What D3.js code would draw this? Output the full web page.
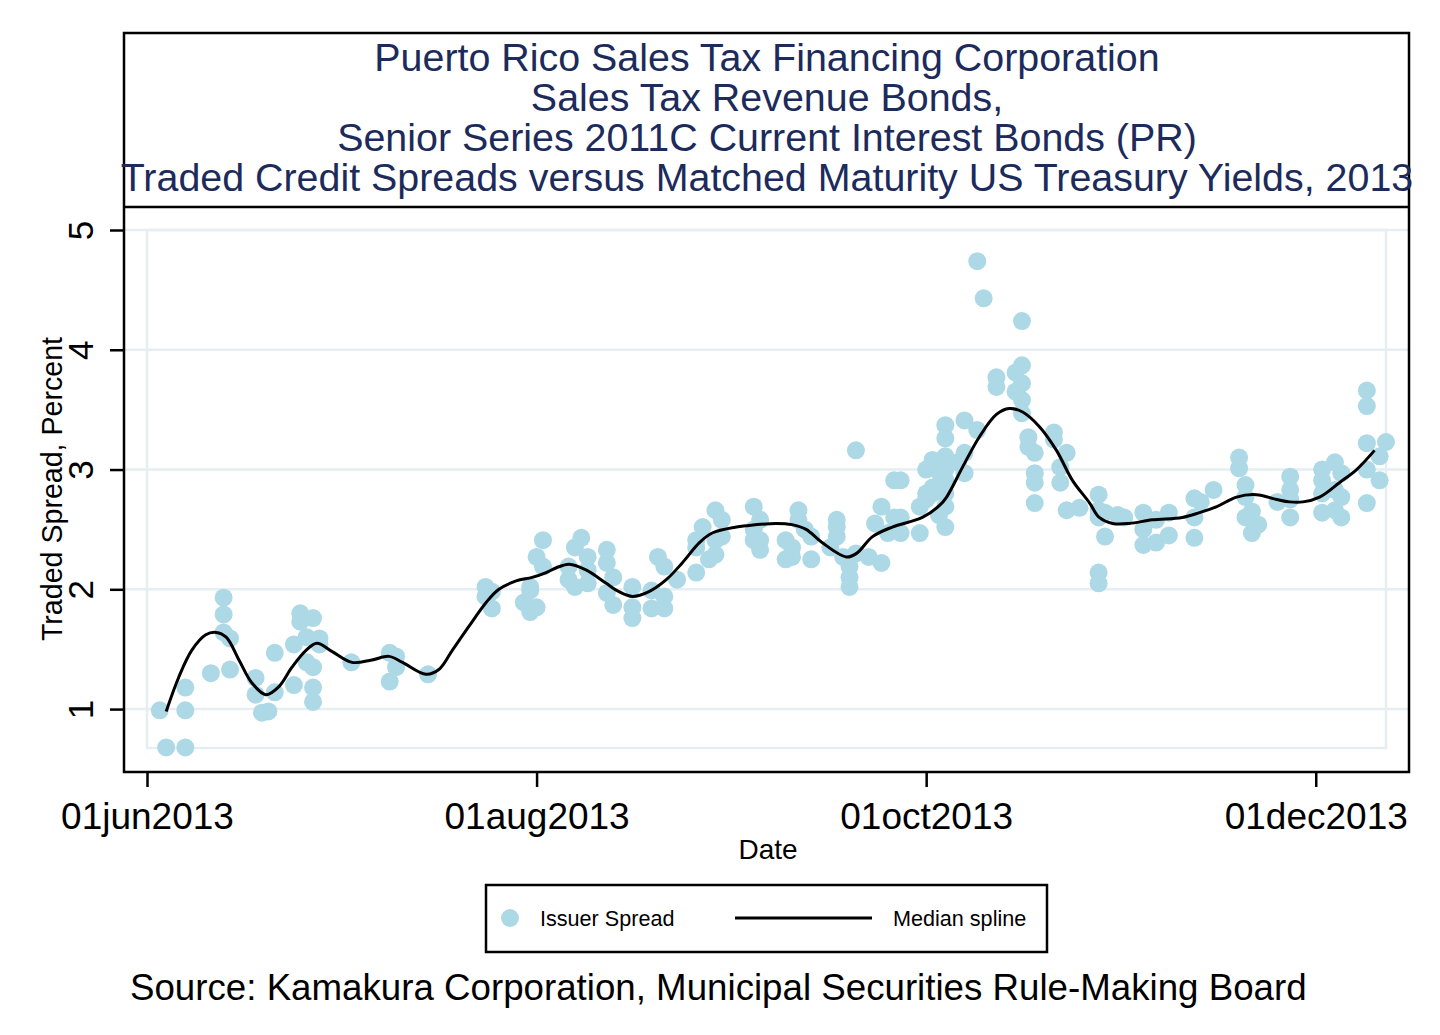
<!DOCTYPE html>
<html>
<head>
<meta charset="utf-8">
<script src="https://cdn.jsdelivr.net/npm/d3@7"></script>
<style>
  html, body { margin: 0; padding: 0; background: #ffffff; }
  svg { display: block; font-family: "Liberation Sans", Arial, sans-serif; }
</style>
</head>
<body>
<div id="chart"></div>
<script>
// ---------------- DATA ----------------
const titleLines = [
  "Puerto Rico Sales Tax Financing Corporation",
  "Sales Tax Revenue Bonds,",
  "Senior Series 2011C Current Interest Bonds (PR)",
  "Traded Credit Spreads versus Matched Maturity US Treasury Yields, 2013"
];
const xTickDates = ["2013-06-01", "2013-08-01", "2013-10-01", "2013-12-01"];
const xTickLabels = ["01jun2013", "01aug2013", "01oct2013", "01dec2013"];
const yTicks = [1, 2, 3, 4, 5];
const xTitle = "Date";
const yTitle = "Traded Spread, Percent";
const legendLabels = ["Issuer Spread", "Median spline"];
const sourceNote = "Source: Kamakura Corporation, Municipal Securities Rule-Making Board";

// Issuer spread observations (trade date, spread in percent)
const spreadDates = [
  "2013-06-03","2013-06-04","2013-06-07","2013-06-07","2013-06-07","2013-06-11","2013-06-13","2013-06-13","2013-06-13","2013-06-14",
  "2013-06-14","2013-06-18","2013-06-18","2013-06-19","2013-06-20","2013-06-21","2013-06-21","2013-06-24","2013-06-24","2013-06-25",
  "2013-06-25","2013-06-26","2013-06-26","2013-06-27","2013-06-27","2013-06-27","2013-06-27","2013-06-28","2013-06-28","2013-07-03",
  "2013-07-09","2013-07-09","2013-07-10","2013-07-10","2013-07-15","2013-07-24","2013-07-24","2013-07-25","2013-07-25","2013-07-30",
  "2013-07-31","2013-07-31","2013-07-31","2013-08-01","2013-08-01","2013-08-02","2013-08-02","2013-08-06","2013-08-06","2013-08-07",
  "2013-08-07","2013-08-08","2013-08-09","2013-08-09","2013-08-09","2013-08-12","2013-08-12","2013-08-12","2013-08-13","2013-08-13",
  "2013-08-16","2013-08-16","2013-08-16","2013-08-19","2013-08-19","2013-08-20","2013-08-21","2013-08-21","2013-08-21","2013-08-23",
  "2013-08-26","2013-08-26","2013-08-26","2013-08-27","2013-08-28","2013-08-29","2013-08-29","2013-08-29","2013-08-30","2013-08-30",
  "2013-09-04","2013-09-04","2013-09-04","2013-09-05","2013-09-05","2013-09-05","2013-09-09","2013-09-09","2013-09-10","2013-09-10",
  "2013-09-11","2013-09-11","2013-09-12","2013-09-13","2013-09-13","2013-09-16","2013-09-17","2013-09-17","2013-09-17","2013-09-18",
  "2013-09-19","2013-09-19","2013-09-19","2013-09-20","2013-09-20","2013-09-22","2013-09-23","2013-09-24","2013-09-24","2013-09-25",
  "2013-09-26","2013-09-26","2013-09-27","2013-09-27","2013-09-27","2013-09-30","2013-09-30","2013-10-01","2013-10-01","2013-10-01",
  "2013-10-02","2013-10-02","2013-10-02","2013-10-03","2013-10-03","2013-10-04","2013-10-04","2013-10-04","2013-10-04","2013-10-04",
  "2013-10-04","2013-10-04","2013-10-04","2013-10-06","2013-10-07","2013-10-07","2013-10-07","2013-10-09","2013-10-09","2013-10-10",
  "2013-10-12","2013-10-12","2013-10-15","2013-10-15","2013-10-16","2013-10-16","2013-10-16","2013-10-16","2013-10-16","2013-10-17",
  "2013-10-17","2013-10-18","2013-10-18","2013-10-18","2013-10-18","2013-10-21","2013-10-21","2013-10-22","2013-10-22","2013-10-23",
  "2013-10-23","2013-10-25","2013-10-28","2013-10-28","2013-10-28","2013-10-28","2013-10-28","2013-10-29","2013-10-29","2013-10-31",
  "2013-11-01","2013-11-04","2013-11-04","2013-11-04","2013-11-06","2013-11-06","2013-11-08","2013-11-08","2013-11-12","2013-11-12",
  "2013-11-12","2013-11-13","2013-11-15","2013-11-19","2013-11-19","2013-11-20","2013-11-20","2013-11-20","2013-11-21","2013-11-21",
  "2013-11-22","2013-11-25","2013-11-27","2013-11-27","2013-11-27","2013-11-27","2013-12-02","2013-12-02","2013-12-02","2013-12-02",
  "2013-12-04","2013-12-04","2013-12-04","2013-12-05","2013-12-05","2013-12-05","2013-12-09","2013-12-09","2013-12-09","2013-12-09",
  "2013-12-09","2013-12-11","2013-12-11","2013-12-12"
];
const spreadValues = [
  0.99,0.68,0.68,0.99,1.18,1.30,1.93,1.79,1.64,1.59,
  1.33,1.26,1.12,0.97,0.98,1.47,1.14,1.54,1.20,1.80,
  1.73,1.60,1.39,1.76,1.35,1.18,1.06,1.59,1.54,1.39,
  1.47,1.23,1.44,1.35,1.29,2.02,1.94,1.98,1.84,1.89,
  1.99,1.81,2.02,2.27,1.85,2.41,2.19,2.19,2.08,2.35,
  2.02,2.43,2.27,2.05,2.16,2.33,2.22,1.97,2.10,1.87,
  2.02,1.85,1.76,1.84,1.99,2.27,2.19,1.94,1.84,2.08,
  2.41,2.14,2.35,2.52,2.25,2.41,2.29,2.66,2.58,2.44,
  2.69,2.50,2.41,2.58,2.41,2.33,2.41,2.25,2.27,2.35,
  2.66,2.58,2.50,2.44,2.25,2.35,2.58,2.52,2.44,2.27,
  2.19,2.10,2.02,2.30,3.16,2.27,2.55,2.22,2.69,2.47,
  2.60,2.91,2.91,2.60,2.47,2.47,2.69,3.00,2.75,2.80,
  2.85,3.08,2.80,2.98,2.62,3.37,3.26,3.11,3.00,2.91,
  2.80,2.69,2.52,3.06,3.41,3.14,2.97,4.74,3.33,4.43,
  3.77,3.69,3.81,3.65,4.24,3.87,3.72,3.58,3.47,3.27,
  3.19,3.14,2.97,2.89,2.72,3.31,3.25,3.02,2.89,3.14,
  2.66,2.68,2.79,2.66,2.60,2.14,2.05,2.44,2.64,2.62,
  2.60,2.64,2.50,2.37,2.39,2.58,2.64,2.45,2.76,2.60,
  2.43,2.73,2.83,3.10,3.01,2.87,2.77,2.60,2.65,2.47,
  2.54,2.73,2.94,2.83,2.75,2.60,3.00,2.91,2.80,2.64,
  3.06,2.66,2.83,2.97,2.60,2.77,3.66,3.53,3.22,3.00,
  2.72,3.11,2.91,3.23
];

// Median spline (days after 01jun2013, spread in percent)
const splineDays = [
  3.0,5.0,7.0,9.2,10.8,12.4,14.4,16.4,18.6,20.7,22.7,24.9,26.6,29.0,32.1,35.2,37.9,40.0,43.7,45.7,
  47.8,50.4,53.1,55.1,57.8,60.3,62.5,64.1,66.1,68.8,71.9,73.9,76.0,78.6,81.3,83.8,86.5,88.5,92.3,93.8,
  98.5,101.0,103.2,105.7,109.5,111.1,113.6,116.7,121.4,124.1,125.2,127.7,130.3,133.0,135.0,137.1,139.7,142.4,144.9,147.6,
  149.1,151.2,153.8,157.4,162.1,164.8,167.5,170.6,173.7,176.9,178.9,181.0,183.6,186.7,189.4,192.2
];
const splineValues = [
  0.98,1.27,1.49,1.62,1.64,1.60,1.41,1.22,1.12,1.19,1.35,1.49,1.55,1.48,1.39,1.41,1.44,1.39,1.29,1.33,
  1.49,1.69,1.89,2.00,2.07,2.10,2.14,2.18,2.21,2.16,2.05,1.98,1.94,1.98,2.08,2.22,2.39,2.47,2.52,2.53,
  2.55,2.54,2.50,2.39,2.27,2.30,2.44,2.52,2.60,2.70,2.77,3.02,3.27,3.46,3.51,3.48,3.36,3.16,2.91,2.72,
  2.60,2.55,2.55,2.58,2.60,2.64,2.69,2.77,2.79,2.75,2.73,2.73,2.77,2.89,3.00,3.16
];

// ---------------- CHART ----------------
const W = 1440, H = 1035;
const parse = d3.utcParse("%Y-%m-%d");
const startDate = parse("2013-06-01");
const endDate = parse("2013-12-12");
const dayMs = 864e5;

const frame = {left: 124, right: 1409, titleTop: 33, titleBottom: 207, bottom: 772};
const titleColor = "#1c2b5b";
const markerColor = "#add8e6";
const gridColor = "#e6eef1";
const fontFam = "'Liberation Sans', Arial, sans-serif";

const svg = d3.select("#chart").append("svg")
  .attr("width", W).attr("height", H);

svg.append("rect").attr("width", W).attr("height", H).attr("fill", "#fff");

const x = d3.scaleUtc().domain([startDate, endDate]).range([147, 1386]);
const y = d3.scaleLinear().domain([0.675, 5]).range([748, 230]);

// horizontal grid lines
svg.append("g").selectAll("line").data(yTicks).join("line")
  .attr("x1", frame.left).attr("x2", frame.right)
  .attr("y1", d => y(d)).attr("y2", d => y(d))
  .attr("stroke", gridColor).attr("stroke-width", 2.5);

// inner plot region outline
svg.append("rect")
  .attr("x", x.range()[0]).attr("y", y.range()[1])
  .attr("width", x.range()[1] - x.range()[0])
  .attr("height", y.range()[0] - y.range()[1])
  .attr("fill", "none").attr("stroke", gridColor).attr("stroke-width", 2.5);

// scatter points
const points = spreadDates.map((d, i) => ({date: parse(d), value: spreadValues[i]}));
svg.append("g").selectAll("circle").data(points).join("circle")
  .attr("cx", d => x(d.date)).attr("cy", d => y(d.value))
  .attr("r", 9).attr("fill", markerColor);

// median spline
const splineData = splineDays.map((d, i) => ({date: new Date(startDate.getTime() + d * dayMs), value: splineValues[i]}));
const line = d3.line().x(d => x(d.date)).y(d => y(d.value)).curve(d3.curveCatmullRom.alpha(0.5));
svg.append("path").datum(splineData)
  .attr("d", line).attr("fill", "none").attr("stroke", "#000").attr("stroke-width", 3);

// frames
const fr = svg.append("g").attr("fill", "none").attr("stroke", "#000").attr("stroke-width", 2.5);
fr.append("rect").attr("x", frame.left).attr("y", frame.titleTop)
  .attr("width", frame.right - frame.left).attr("height", frame.bottom - frame.titleTop);
fr.append("line").attr("x1", frame.left).attr("x2", frame.right)
  .attr("y1", frame.titleBottom).attr("y2", frame.titleBottom);

// x axis
const xAxis = d3.axisBottom(x)
  .tickValues(xTickDates.map(parse))
  .tickFormat((d, i) => xTickLabels[i])
  .tickSize(15).tickPadding(16);
const gx = svg.append("g").attr("transform", `translate(0,${frame.bottom})`).call(xAxis);
gx.select(".domain").remove();
gx.selectAll(".tick line").attr("stroke", "#000").attr("stroke-width", 2.5);
gx.selectAll(".tick text").attr("fill", "#000").attr("font-size", 37)
  .attr("font-family", fontFam);

// y axis
const yAxis = d3.axisLeft(y).tickValues(yTicks).tickFormat(d3.format("d")).tickSize(14);
const gy = svg.append("g").attr("transform", `translate(${frame.left},0)`).call(yAxis);
gy.select(".domain").remove();
gy.selectAll(".tick line").attr("stroke", "#000").attr("stroke-width", 2.5);
gy.selectAll(".tick text")
  .attr("fill", "#000").attr("font-size", 35)
  .attr("font-family", fontFam)
  .attr("x", null).attr("dy", null)
  .attr("text-anchor", "middle")
  .attr("transform", "translate(-31,0) rotate(-90)");

// axis titles
svg.append("text").attr("x", 768).attr("y", 859).attr("text-anchor", "middle")
  .attr("font-size", 28).attr("fill", "#000").text(xTitle);
svg.append("text").attr("transform", "translate(62,489) rotate(-90)")
  .attr("text-anchor", "middle").attr("font-size", 28.6).attr("fill", "#000").text(yTitle);

// title
svg.append("g").selectAll("text").data(titleLines).join("text")
  .attr("x", 767).attr("y", (d, i) => 71 + i * 40)
  .attr("text-anchor", "middle").attr("font-size", 39.4).attr("fill", titleColor)
  .text(d => d);

// legend
const lg = svg.append("g");
lg.append("rect").attr("x", 486).attr("y", 885).attr("width", 561).attr("height", 67)
  .attr("fill", "#fff").attr("stroke", "#000").attr("stroke-width", 2.5);
lg.append("circle").attr("cx", 510).attr("cy", 918).attr("r", 9).attr("fill", markerColor);
lg.append("text").attr("x", 540).attr("y", 926).attr("font-size", 21.6).attr("fill", "#000").text(legendLabels[0]);
lg.append("line").attr("x1", 735).attr("x2", 872).attr("y1", 918).attr("y2", 918)
  .attr("stroke", "#000").attr("stroke-width", 3);
lg.append("text").attr("x", 893).attr("y", 926).attr("font-size", 21.6).attr("fill", "#000").text(legendLabels[1]);

// source note
svg.append("text").attr("x", 130).attr("y", 1000).attr("font-size", 36.7).attr("fill", "#000").text(sourceNote);
</script>
</body>
</html>
